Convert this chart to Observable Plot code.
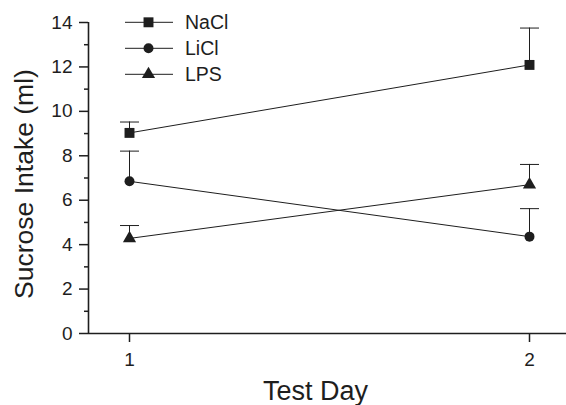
<!DOCTYPE html>
<html>
<head>
<meta charset="utf-8">
<script src="https://cdn.jsdelivr.net/npm/d3@7"></script>
<script src="https://cdn.jsdelivr.net/npm/@observablehq/plot@0.6"></script>
<style>
  html, body { margin: 0; padding: 0; background: #fff; }
  #chart { width: 566px; height: 405px; }
</style>
</head>
<body>
<div id="chart"></div>
<script>
// ---- data ----
const days = [1, 2];
const seriesNames = ["NaCl", "LiCl", "LPS"];
const seriesSymbols = ["square", "circle", "triangle"];
const naclMean = [9.03, 12.09];
const naclErr = [0.49, 1.66];
const liclMean = [6.85, 4.36];
const liclErr = [1.36, 1.26];
const lpsMean = [4.28, 6.7];
const lpsErr = [0.58, 0.91];
const yMajorTicks = [0, 2, 4, 6, 8, 10, 12, 14];
const yMinorTicks = [1, 3, 5, 7, 9, 11, 13];
const xTicks = [1, 2];
const xDomain = [0.8975, 2.0925];
const yDomain = [0, 14];
const xTitle = "Test Day";
const yTitle = "Sucrose Intake (ml)";

// ---- table built from arrays ----
const means = [naclMean, liclMean, lpsMean];
const errs = [naclErr, liclErr, lpsErr];
const rows = [];
seriesNames.forEach((s, i) => {
  days.forEach((d, j) => {
    rows.push({series: s, symbol: seriesSymbols[i], day: d, value: means[i][j], top: means[i][j] + errs[i][j]});
  });
});

const ink = "#1e1e1e";
const symbolR = {square: 5.6, circle: 5, triangle: 4.9};
const capSymbol = {draw(ctx) { ctx.moveTo(-9.5, 0); ctx.lineTo(9.5, 0); }};

function legendMark(index, scales, values, dims) {
  const g = d3.create("svg:g");
  const x0 = 125, x1 = 173, xm = 148.5, xt = 185, yTop = 22.3, gap = 26;
  seriesNames.forEach((s, i) => {
    const y = yTop + i * gap;
    g.append("line").attr("x1", x0).attr("x2", x1).attr("y1", y).attr("y2", y)
      .attr("stroke", ink).attr("stroke-width", 1);
    const sym = seriesSymbols[i];
    const typ = sym === "square" ? d3.symbolSquare : sym === "circle" ? d3.symbolCircle : d3.symbolTriangle;
    const r = symbolR[sym];
    g.append("path").attr("d", d3.symbol(typ, Math.PI * r * r)()).attr("transform", `translate(${xm},${y})`)
      .attr("fill", ink);
    g.append("text").attr("x", xt).attr("y", y).attr("dy", "0.36em")
      .attr("text-anchor", "start").attr("font-size", 19.5)
      .style("font-size", "19.5px").style("fill", ink)
      .text(s);
  });
  return g.node();
}

const chart = Plot.plot({
  width: 566,
  height: 405,
  marginLeft: 88,
  marginRight: 0,
  marginTop: 22,
  marginBottom: 72,
  style: {fontFamily: "'Liberation Sans', Arial, sans-serif", color: ink, background: "#fff", overflow: "visible"},
  x: {domain: xDomain, axis: null},
  y: {domain: yDomain, axis: null},
  marks: [
    // axes lines
    Plot.ruleX([xDomain[0]], {stroke: ink, strokeWidth: 1.6}),
    Plot.ruleY([yDomain[0]], {stroke: ink, strokeWidth: 1.6}),
    // y axis major
    Plot.axisY({ticks: yMajorTicks, tickSize: 9, tickPadding: 7, fontSize: 19, strokeWidth: 1.5, tickFormat: d => String(d), label: null}),
    Plot.axisY({ticks: yMinorTicks, tickSize: 4, strokeWidth: 1.5, tickFormat: null, text: null, label: null}),
    // x axis
    Plot.axisX({ticks: xTicks, tickSize: 9, tickPadding: 10, fontSize: 19, strokeWidth: 1.5, tickFormat: d => String(d), label: null}),
    // titles
    Plot.text([yTitle], {frameAnchor: "left", textAnchor: "middle", rotate: -90, dx: -56, dy: 6, lineAnchor: "bottom", fontSize: 26.5, fill: ink}),
    Plot.text([xTitle], {frameAnchor: "bottom", textAnchor: "middle", dx: -12, dy: 66, lineAnchor: "bottom", fontSize: 27, fill: ink}),
    // data lines
    Plot.line(rows, {x: "day", y: "value", z: "series", stroke: ink, strokeWidth: 1}),
    // error bars (upper only)
    Plot.ruleX(rows, {x: "day", y1: "value", y2: "top", stroke: ink, strokeWidth: 1}),
    Plot.dot(rows, {x: "day", y: "top", symbol: () => capSymbol, r: 1, stroke: ink, strokeWidth: 1, fill: "none"}),
    // markers
    ...seriesSymbols.map(sym => Plot.dot(rows.filter(d => d.symbol === sym), {x: "day", y: "value", symbol: sym, r: symbolR[sym], fill: ink, stroke: "none"})),
    // legend
    legendMark
  ]
});
document.getElementById("chart").appendChild(chart);
</script>
</body>
</html>
